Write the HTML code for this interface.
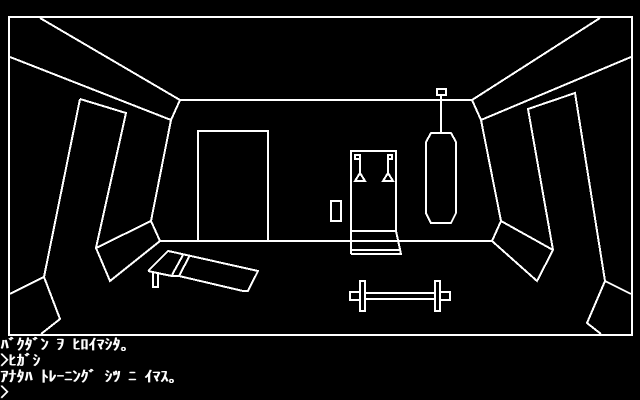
<!DOCTYPE html>
<html><head><meta charset="utf-8">
<style>
html,body{margin:0;padding:0;background:#000;width:640px;height:400px;overflow:hidden}
svg{display:block;position:absolute;left:0;top:0}
.t{position:absolute;left:0;height:16px;line-height:16px;font-size:16px;color:#fff;white-space:pre;text-shadow:1px 0 0 #fff;font-family:"IPAGothic","Liberation Mono","Noto Sans CJK JP",monospace}
</style></head><body>
<svg width="640" height="400" viewBox="0 0 640 400" fill="none" stroke="#fff" stroke-width="2" shape-rendering="crispEdges">
<rect x="9" y="17" width="623" height="318"/>
<!-- ceiling -->
<path d="M40 18L180 100H472L600 18"/>
<path d="M10 57L171 120L180 100M631 57L481 120L472 100"/>
<!-- left wall -->
<path d="M171 120L151 221L160 241H492L501 221L481 120"/>
<path d="M151 221L96 248L110 281L160 241"/>
<path d="M80 99L126 113L96 248M80 99L44 277"/>
<path d="M10 294L44 277L60 319L41 334"/>
<!-- right wall -->
<path d="M501 221L553 250L537 281L492 241"/>
<path d="M553 250L528 109L575 93L605 281"/>
<path d="M631 294L605 281L587 323L601 334"/>
<!-- door, switch -->
<path d="M198 241V131H268V241"/>
<rect x="331" y="201" width="10" height="20"/>
<!-- machine -->
<path d="M351 254V151H396V231L401 254H351M351 231H396M351 250H400"/>
<rect x="355" y="155" width="5" height="4"/>
<rect x="388" y="155" width="4" height="4"/>
<path d="M360 159V173M388 159V173"/>
<path d="M360 173L355 181H365ZM388 173L383 181H393Z"/>
<!-- punching bag -->
<rect x="437" y="89" width="9" height="6"/>
<path d="M441 95V133"/>
<path d="M431 133H451L456 142V213L451 223H431L426 213V142Z"/>
<!-- barbell -->
<rect x="360" y="281" width="5" height="30"/>
<rect x="435" y="281" width="5" height="30"/>
<rect x="365" y="293" width="70" height="6"/>
<rect x="350" y="292" width="10" height="8"/>
<rect x="440" y="292" width="10" height="8"/>
<!-- bench -->
<path d="M148 271L168 251L173 252L258 271L248 291H243L179 276L172 276L162 274L148 271"/>
<path d="M183 255L172 275M190 255L179 276"/>
<path d="M153 271V287H158V272"/>
</svg>
<div class="t" style="top:336px">ﾊﾞｸﾀﾞﾝ ｦ ﾋﾛｲﾏｼﾀ｡</div>
<div class="t" style="top:352px">&gt;ﾋｶﾞｼ</div>
<div class="t" style="top:368px">ｱﾅﾀﾊ ﾄﾚｰﾆﾝｸﾞ ｼﾂ ﾆ ｲﾏｽ｡</div>
<div class="t" style="top:384px">&gt;</div>
</body></html>
